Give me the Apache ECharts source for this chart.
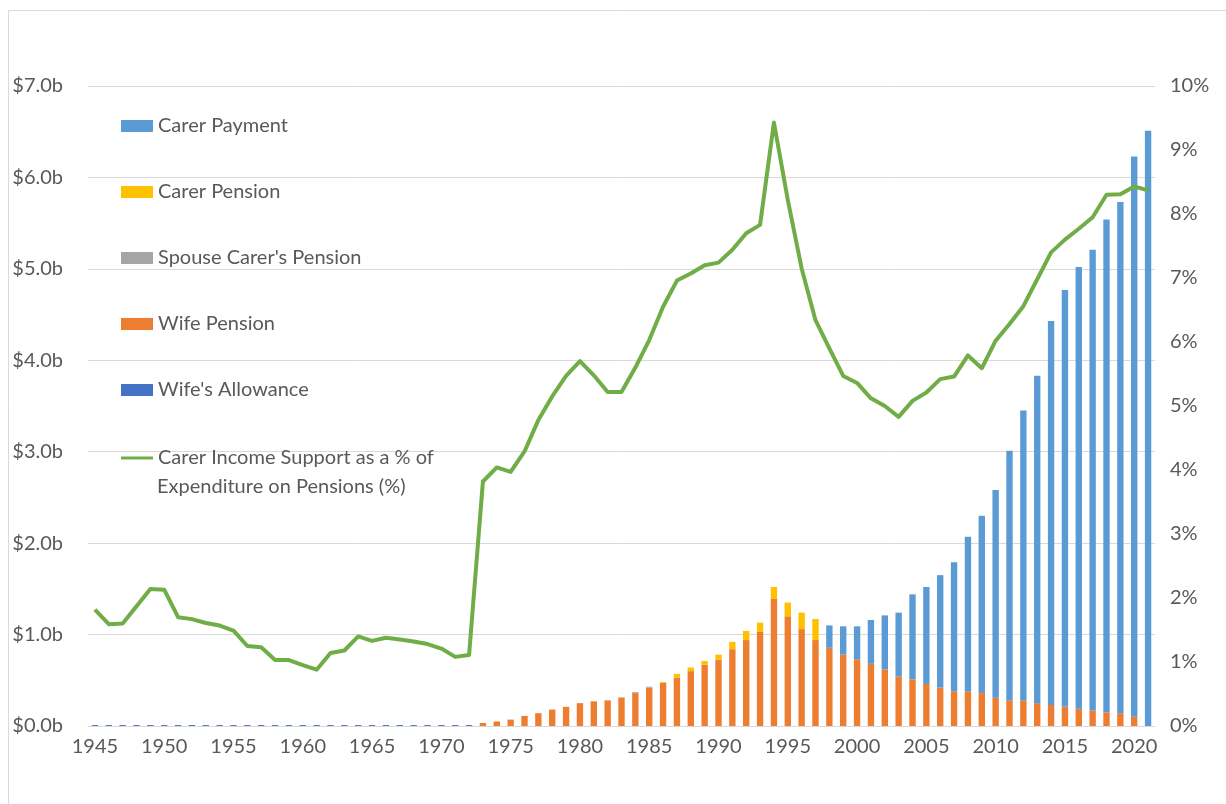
<!DOCTYPE html>
<html>
<head>
<meta charset="utf-8">
<script src="https://cdn.jsdelivr.net/npm/echarts@6/dist/echarts.min.js"></script>
<style>
  html, body { margin: 0; padding: 0; background: #fff; }
  #chart-panel { width: 1226px; height: 804px; }
</style>
</head>
<body>
<div id="chart-panel"></div>
<script>
// years 1945 - 2021
const years = []
for (let y = 1945; y <= 2021; y++) years.push(String(y))

// $ billions, 1945 .. 2021
const wifesAllowance = [
  0.01, 0.01, 0.01, 0.01, 0.01, 0.01, 0.01, 0.01, 0.01, 0.01,
  0.01, 0.01, 0.01, 0.01, 0.01, 0.01, 0.01, 0.01, 0.01, 0.01,
  0.01, 0.01, 0.01, 0.01, 0.01, 0.01, 0.01, 0.01,
  0, 0, 0, 0, 0, 0, 0, 0, 0, 0,
  0, 0, 0, 0, 0, 0, 0, 0, 0, 0,
  0, 0, 0, 0, 0, 0, 0, 0, 0, 0,
  0, 0, 0, 0, 0, 0, 0, 0, 0, 0,
  0, 0, 0, 0, 0, 0, 0, 0, 0
]
const wifePension = [
  0, 0, 0, 0, 0, 0, 0, 0, 0, 0,
  0, 0, 0, 0, 0, 0, 0, 0, 0, 0,
  0, 0, 0, 0, 0, 0, 0, 0,
  0.033, 0.05, 0.07, 0.11, 0.14, 0.18, 0.21, 0.25, 0.27, 0.28, // 1973-1982
  0.31, 0.36, 0.42, 0.47, 0.53, 0.60, 0.67, 0.725, 0.84, 0.94, // 1983-1992
  1.03, 1.39, 1.20, 1.06, 0.94, 0.855, 0.78, 0.73, 0.68, 0.62, // 1993-2002
  0.54, 0.51, 0.46, 0.42, 0.38, 0.38, 0.36, 0.31, 0.28, 0.28,  // 2003-2012
  0.25, 0.23, 0.21, 0.19, 0.17, 0.15, 0.14, 0.10, 0            // 2013-2021
]
const spouseCarersPension = [
  0, 0, 0, 0, 0, 0, 0, 0, 0, 0,
  0, 0, 0, 0, 0, 0, 0, 0, 0, 0,
  0, 0, 0, 0, 0, 0, 0, 0,
  0, 0, 0, 0, 0, 0, 0, 0, 0, 0,
  0.005, 0.01, 0.01, 0, 0, 0, 0, 0, 0, 0,
  0, 0, 0, 0, 0, 0, 0, 0, 0, 0,
  0, 0, 0, 0, 0, 0, 0, 0, 0, 0,
  0, 0, 0, 0, 0, 0, 0, 0, 0
]
const carerPension = [
  0, 0, 0, 0, 0, 0, 0, 0, 0, 0,
  0, 0, 0, 0, 0, 0, 0, 0, 0, 0,
  0, 0, 0, 0, 0, 0, 0, 0,
  0, 0, 0, 0, 0, 0, 0, 0, 0, 0,
  0, 0, 0, 0.01, 0.04, 0.04, 0.04, 0.055, 0.08, 0.10,
  0.10, 0.13, 0.15, 0.18, 0.23, 0, 0, 0, 0, 0,
  0, 0, 0, 0, 0, 0, 0, 0, 0, 0,
  0, 0, 0, 0, 0, 0, 0, 0, 0
]
const carerPayment = [
  0, 0, 0, 0, 0, 0, 0, 0, 0, 0,
  0, 0, 0, 0, 0, 0, 0, 0, 0, 0,
  0, 0, 0, 0, 0, 0, 0, 0,
  0, 0, 0, 0, 0, 0, 0, 0, 0, 0,
  0, 0, 0, 0, 0, 0, 0, 0, 0, 0,
  0, 0, 0, 0, 0, 0.245, 0.31, 0.36, 0.48, 0.59,               // 1993-2002
  0.70, 0.93, 1.06, 1.23, 1.41, 1.69, 1.94, 2.27, 2.73, 3.17,  // 2003-2012
  3.58, 4.20, 4.56, 4.83, 5.04, 5.39, 5.59, 6.13, 6.51         // 2013-2021
]
// % of expenditure on pensions
const supportShare = [
  1.82, 1.59, 1.60, 1.87, 2.14, 2.13, 1.70, 1.67, 1.61, 1.57, // 1945-1954
  1.49, 1.25, 1.23, 1.03, 1.03, 0.95, 0.88, 1.14, 1.18, 1.40, // 1955-1964
  1.33, 1.38, 1.35, 1.32, 1.28, 1.21, 1.08, 1.11,             // 1965-1972
  3.82, 4.04, 3.97, 4.29, 4.78, 5.15, 5.47, 5.70, 5.48, 5.22, // 1973-1982
  5.22, 5.60, 6.03, 6.55, 6.96, 7.07, 7.20, 7.24, 7.44, 7.70, // 1983-1992
  7.83, 9.43, 8.22, 7.15, 6.34, 5.90, 5.47, 5.36, 5.12, 5.00, // 1993-2002
  4.83, 5.08, 5.21, 5.42, 5.46, 5.79, 5.59, 6.02, 6.28, 6.56, // 2003-2012
  6.98, 7.40, 7.60, 7.77, 7.95, 8.30, 8.31, 8.43, 8.37        // 2013-2021
]

const font = "Lato"
const textColor = "#595959"
const lineName = "Carer Income Support as a % of"
const lineNameRest = "Expenditure on Pensions (%)"

const chart = echarts.init(document.getElementById("chart-panel"), null, { renderer: "canvas" })

const barSeries = (name, data, color) => ({
  name: name,
  type: "bar",
  stack: "total",
  barWidth: "46%",
  data: data,
  itemStyle: { color: color }
})

const options = {
  animation: false,
  textStyle: { fontFamily: font },
  graphic: [
    {
      type: "rect",
      shape: { x: 8.5, y: 10.5, width: 1300, height: 900 },
      style: { fill: "none", stroke: "#d9d9d9", lineWidth: 1 },
      silent: true
    },
    {
      // second line of the line series' legend label
      type: "text",
      left: 157,
      top: 477,
      style: { text: lineNameRest, fill: textColor, fontSize: 20, fontFamily: font },
      silent: true
    }
  ],
  grid: { left: 88, right: 71, top: 86, bottom: 78 },
  legend: [
    {
      orient: "vertical",
      left: 116,
      top: 109,
      itemWidth: 32,
      itemHeight: 12,
      itemGap: 42,
      icon: "rect",
      data: ["Carer Payment", "Carer Pension", "Spouse Carer's Pension", "Wife Pension", "Wife's Allowance"],
      textStyle: { color: textColor, fontSize: 20, lineHeight: 24, fontFamily: font }
    },
    {
      orient: "vertical",
      left: 116,
      top: 441,
      itemWidth: 32,
      itemHeight: 3,
      icon: "rect",
      data: [lineName],
      textStyle: { color: textColor, fontSize: 20, lineHeight: 24, fontFamily: font }
    }
  ],
  xAxis: {
    type: "category",
    data: years,
    axisLine: { lineStyle: { color: "#d9d9d9", width: 1 } },
    axisTick: { show: false },
    axisLabel: { interval: 4, color: textColor, fontSize: 20, margin: 11, fontFamily: font }
  },
  yAxis: [
    {
      type: "value",
      min: 0,
      max: 7,
      interval: 1,
      axisLine: { show: false },
      axisTick: { show: false },
      splitLine: { lineStyle: { color: "#d9d9d9", width: 1 } },
      axisLabel: {
        color: textColor,
        fontSize: 20,
        margin: 25,
        fontFamily: font,
        formatter: (v) => "$" + v.toFixed(1) + "b"
      }
    },
    {
      type: "value",
      min: 0,
      max: 10,
      interval: 1,
      axisLine: { show: false },
      axisTick: { show: false },
      splitLine: { show: false },
      axisLabel: {
        color: textColor,
        fontSize: 20,
        margin: 15,
        fontFamily: font,
        formatter: (v) => v + "%"
      }
    }
  ],
  series: [
    barSeries("Wife's Allowance", wifesAllowance, "#4472C4"),
    barSeries("Wife Pension", wifePension, "#ED7D31"),
    barSeries("Spouse Carer's Pension", spouseCarersPension, "#A5A5A5"),
    barSeries("Carer Pension", carerPension, "#FFC000"),
    barSeries("Carer Payment", carerPayment, "#5B9BD5"),
    {
      name: lineName,
      type: "line",
      yAxisIndex: 1,
      data: supportShare,
      symbol: "none",
      lineStyle: { color: "#70AD47", width: 4, join: "round" },
      itemStyle: { color: "#70AD47" },
      z: 5
    }
  ]
}
chart.setOption(options)
window.addEventListener("resize", () => chart.resize())
</script>
</body>
</html>
